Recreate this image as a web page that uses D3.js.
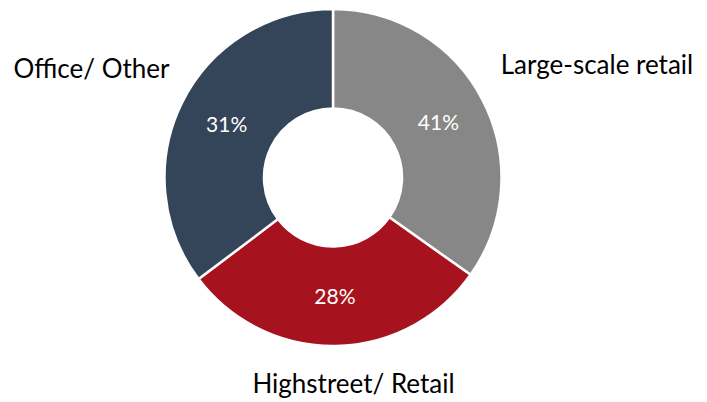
<!DOCTYPE html>
<html><head><meta charset="utf-8">
<script src="https://cdn.jsdelivr.net/npm/d3@7"></script>
<style>html,body{margin:0;padding:0;background:#fff;}svg{display:block;}</style>
</head><body>
<svg id="chart" width="707" height="402"></svg>
<script>
// Data (slice sizes as drawn in the picture; labels as printed)
const categories = ["Large-scale retail", "Highstreet/ Retail", "Office/ Other"];
const sliceValues = [34.8, 29.9, 35.3];
const valueLabels = ["41%", "28%", "31%"];
const colors = ["#878787", "#A6121E", "#344559"];

const svg = d3.select("#chart");
const cx = 333, cy = 177.5, outerR = 168.5, innerR = 69;
const g = svg.append("g").attr("transform", `translate(${cx},${cy})`);

const pie = d3.pie().sort(null).value(d => d.v);
const data = categories.map((c, i) => ({c, v: sliceValues[i], lab: valueLabels[i], col: colors[i]}));
const arcs = pie(data);
const arc = d3.arc().innerRadius(innerR).outerRadius(outerR);

g.selectAll("path").data(arcs).join("path")
  .attr("d", arc)
  .attr("fill", d => d.data.col)
  .attr("stroke", "#fff")
  .attr("stroke-width", 2.5);

const font = "Lato, 'Open Sans', sans-serif";
g.selectAll("text.pct").data(arcs).join("text")
  .attr("class", "pct")
  .attr("x", d => arc.centroid(d)[0])
  .attr("y", d => arc.centroid(d)[1] + 7.5)
  .attr("text-anchor", "middle")
  .attr("fill", "#fff")
  .style("font-family", font)
  .style("font-size", "21px")
  .text(d => d.data.lab);

// Category labels
const catPos = {
  "Large-scale retail": {x: 597, y: 74},
  "Highstreet/ Retail": {x: 353.5, y: 393},
  "Office/ Other": {x: 91.5, y: 78}
};
svg.selectAll("text.cat").data(arcs).join("text")
  .attr("class", "cat")
  .attr("x", d => catPos[d.data.c].x)
  .attr("y", d => catPos[d.data.c].y)
  .attr("text-anchor", "middle")
  .attr("fill", "#000")
  .style("font-family", font)
  .style("font-size", "26px")
  .text(d => d.data.c);
</script>
</body></html>
